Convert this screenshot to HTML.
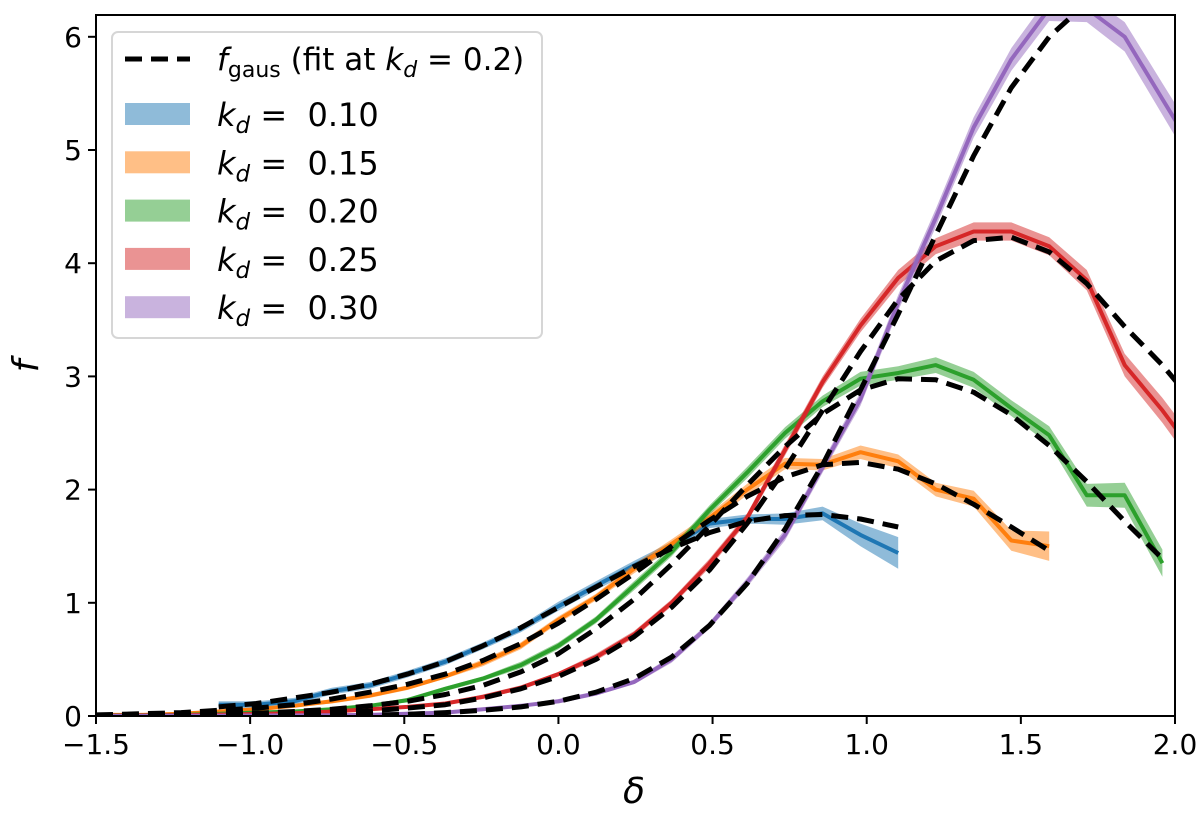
<!DOCTYPE html>
<html><head><meta charset="utf-8">
<style>
html,body{margin:0;padding:0;background:#fff;}
svg{display:block;font-family:"DejaVu Sans","Liberation Sans",sans-serif;}
</style></head>
<body>
<svg id="chart" width="1200" height="814" viewBox="0 0 1200 814" xmlns="http://www.w3.org/2000/svg">
<defs><clipPath id="plotclip"><rect x="96" y="15" width="1079" height="701"/></clipPath></defs>
<rect x="0" y="0" width="1200" height="814" fill="#fff"/>
<g id="series" clip-path="url(#plotclip)"></g>
<g id="axes"></g>
<g id="legend"></g>
</svg>
<script>
const xGrid = [-1.5,-1.347,-1.224,-1.102,-0.980,-0.857,-0.735,-0.612,-0.490,-0.367,-0.245,-0.122,0,0.122,0.245,0.367,0.490,0.612,0.735,0.857,0.980,1.102,1.224,1.347,1.469,1.592,1.714,1.837,1.959,2.082];
const blueX = [-1.102,-0.980,-0.857,-0.735,-0.612,-0.490,-0.367,-0.245,-0.122,0,0.122,0.245,0.367,0.490,0.612,0.735,0.857,0.980,1.102];
const blueY = [0.10,0.10,0.13,0.22,0.27,0.37,0.48,0.62,0.77,0.97,1.15,1.33,1.50,1.70,1.74,1.74,1.79,1.60,1.44];
const blueErr = [0.03,0.03,0.03,0.03,0.03,0.03,0.03,0.03,0.03,0.04,0.04,0.04,0.04,0.04,0.04,0.05,0.06,0.10,0.14];
const blueFit = [0.08,0.11,0.16,0.21,0.28,0.37,0.48,0.62,0.78,0.96,1.14,1.32,1.48,1.62,1.72,1.77,1.78,1.74,1.67];
const orangeY = [0.01,0.01,0.02,0.04,0.06,0.09,0.13,0.18,0.25,0.35,0.47,0.62,0.85,1.05,1.30,1.52,1.75,2.00,2.23,2.22,2.33,2.25,2.00,1.92,1.55,1.50];
const orangeErr = [0.01,0.01,0.01,0.01,0.01,0.01,0.02,0.02,0.02,0.02,0.03,0.03,0.03,0.03,0.04,0.04,0.04,0.05,0.05,0.05,0.06,0.06,0.06,0.07,0.09,0.13];
const orangeFit = [0.01,0.02,0.03,0.05,0.07,0.10,0.15,0.21,0.28,0.37,0.49,0.64,0.82,1.03,1.26,1.50,1.73,1.94,2.11,2.22,2.24,2.18,2.05,1.87,1.67,1.46];
const greenY = [0.005,0.006,0.01,0.02,0.03,0.04,0.06,0.09,0.14,0.24,0.33,0.45,0.62,0.85,1.15,1.45,1.82,2.15,2.50,2.78,2.98,3.03,3.10,2.97,2.72,2.48,1.95,1.95,1.35];
const greenErr = [0.01,0.01,0.01,0.01,0.01,0.01,0.01,0.01,0.02,0.02,0.02,0.03,0.03,0.03,0.04,0.04,0.04,0.05,0.05,0.05,0.06,0.06,0.07,0.07,0.07,0.08,0.10,0.11,0.12];
const greenFit = [0.003,0.005,0.01,0.015,0.025,0.04,0.06,0.09,0.13,0.19,0.27,0.39,0.55,0.77,1.03,1.34,1.68,2.04,2.38,2.67,2.88,2.98,2.97,2.86,2.66,2.39,2.07,1.72,1.39,1.10];
const redY = [0.003,0.005,0.008,0.012,0.018,0.025,0.04,0.06,0.08,0.11,0.17,0.25,0.37,0.52,0.72,1.00,1.35,1.75,2.35,2.95,3.45,3.87,4.15,4.28,4.28,4.15,3.85,3.10,2.70,2.25];
const redErr = [0.01,0.01,0.01,0.01,0.01,0.01,0.01,0.01,0.01,0.01,0.02,0.02,0.02,0.03,0.03,0.03,0.04,0.04,0.05,0.05,0.06,0.07,0.07,0.08,0.08,0.08,0.09,0.10,0.11,0.12];
const redFit = [0.005,0.006,0.008,0.01,0.012,0.02,0.03,0.045,0.07,0.10,0.16,0.24,0.35,0.50,0.70,0.96,1.29,1.70,2.18,2.70,3.22,3.68,4.02,4.20,4.23,4.10,3.82,3.44,3.10,2.70];
const purpleY = [0.001,0.001,0.002,0.003,0.004,0.005,0.007,0.01,0.02,0.03,0.06,0.09,0.13,0.20,0.30,0.50,0.80,1.18,1.60,2.20,2.80,3.65,4.40,5.20,5.80,6.25,6.25,6.00,5.45,4.90];
const purpleErr = [0.01,0.01,0.01,0.01,0.01,0.01,0.01,0.01,0.01,0.01,0.01,0.01,0.02,0.02,0.02,0.03,0.03,0.04,0.05,0.05,0.06,0.07,0.08,0.09,0.10,0.11,0.12,0.13,0.14,0.15];
const purpleFit = [0.005,0.005,0.005,0.005,0.005,0.005,0.006,0.008,0.015,0.03,0.05,0.08,0.13,0.21,0.33,0.52,0.80,1.17,1.65,2.22,2.88,3.55,4.25,4.95,5.55,6.00,6.30,6.40,6.35,6.10];
const xTicks = [-1.5,-1.0,-0.5,0.0,0.5,1.0,1.5,2.0];
const xTickLabels = ["\u22121.5","\u22121.0","\u22120.5","0.0","0.5","1.0","1.5","2.0"];
const yTicks = [0,1,2,3,4,5,6];
const yTickLabels = ["0","1","2","3","4","5","6"];

const X0=96, X1=1175, Y0=716, Y1=15;
const xMin=-1.5, xMax=2.0, yMin=0, yMax=(716-15)/113.2;
function sx(v){return X0+(v-xMin)/(xMax-xMin)*(X1-X0);}
function sy(v){return Y0-(v-yMin)/(yMax-yMin)*(Y0-Y1);}
const NS="http://www.w3.org/2000/svg";
function mk(tag,attrs,parent){const e=document.createElementNS(NS,tag);for(const k in attrs)e.setAttribute(k,attrs[k]);parent.appendChild(e);return e;}

const gS=document.getElementById('series');
const series=[
 {name:'kd-0-10',x:blueX,y:blueY,e:blueErr,fit:blueFit,c:'#1f77b4'},
 {name:'kd-0-15',x:xGrid.slice(0,26),y:orangeY,e:orangeErr,fit:orangeFit,c:'#ff7f0e'},
 {name:'kd-0-20',x:xGrid.slice(0,29),y:greenY,e:greenErr,fit:greenFit.slice(0,29),c:'#2ca02c'},
 {name:'kd-0-25',x:xGrid,y:redY,e:redErr,fit:redFit,c:'#d62728'},
 {name:'kd-0-30',x:xGrid,y:purpleY,e:purpleErr,fit:purpleFit,c:'#9467bd'}
];
series.forEach(s=>{
  const up=s.x.map((v,i)=>sx(v).toFixed(1)+','+sy(s.y[i]+s.e[i]).toFixed(1));
  const dn=s.x.map((v,i)=>sx(v).toFixed(1)+','+sy(s.y[i]-s.e[i]).toFixed(1)).reverse();
  const band=mk('polygon',{points:up.concat(dn).join(' '),fill:s.c,'fill-opacity':0.5,stroke:'none'},gS);
  
  
  const line=mk('polyline',{points:s.x.map((v,i)=>sx(v).toFixed(1)+','+sy(s.y[i]).toFixed(1)).join(' '),fill:'none',stroke:s.c,'stroke-width':4,'stroke-linejoin':'round'},gS);
  
  
});
series.forEach(s=>{
  const fx=s.x.slice(0,s.fit.length);
  const f=mk('polyline',{points:fx.map((v,i)=>sx(v).toFixed(1)+','+sy(s.fit[i]).toFixed(1)).join(' '),fill:'none',stroke:'#000','stroke-width':5,'stroke-dasharray':'17 9','stroke-linejoin':'round'},gS);
  
  
});

const gA=document.getElementById('axes');
const frame=mk('rect',{x:X0,y:Y1,width:X1-X0,height:Y0-Y1,fill:'none',stroke:'#000','stroke-width':2},gA);


xTicks.forEach((v,i)=>{
  const t=mk('line',{x1:sx(v),x2:sx(v),y1:Y0,y2:Y0+8,stroke:'#000','stroke-width':2},gA);
  
  
  const l=mk('text',{x:sx(v),y:Y0+38,'text-anchor':'middle','font-size':28,fill:'#000'},gA);
  
  
  l.textContent=xTickLabels[i];
});
yTicks.forEach((v,i)=>{
  const t=mk('line',{x1:X0-8,x2:X0,y1:sy(v),y2:sy(v),stroke:'#000','stroke-width':2},gA);
  
  
  const l=mk('text',{x:X0-14,y:sy(v)+10,'text-anchor':'end','font-size':28,fill:'#000'},gA);
  
  
  l.textContent=yTickLabels[i];
});
const xt=mk('text',{x:634,y:803,'text-anchor':'middle','font-size':36,'font-style':'italic',fill:'#000'},gA);


xt.textContent='δ';
const yt=mk('text',{x:0,y:0,'text-anchor':'middle','font-size':36,'font-style':'italic',fill:'#000',transform:'translate(38,366) rotate(-90)'},gA);


yt.textContent='f';

const gL=document.getElementById('legend');
const box=mk('rect',{x:112,y:32,width:430,height:306,rx:6,fill:'#fff','fill-opacity':0.85,stroke:'#d6d6d6','stroke-width':2},gL);


const dl=mk('line',{x1:125,x2:190,y1:59,y2:59,stroke:'#000','stroke-width':5,'stroke-dasharray':'17 9'},gL);


const ft=mk('text',{x:217,y:70,'font-size':31,fill:'#000'},gL);


ft.innerHTML='<tspan font-style="italic">f</tspan><tspan font-size="22" dy="7">gaus</tspan><tspan dy="-7"> (fit at </tspan><tspan font-style="italic">k</tspan><tspan font-size="22" font-style="italic" dy="7">d</tspan><tspan dy="-7"> = 0.2)</tspan>';
const legVals=['0.10','0.15','0.20','0.25','0.30'];
series.forEach((s,i)=>{
  const cy=114+i*48.3;
  const p=mk('rect',{x:125,y:cy-11,width:65,height:22,fill:s.c,'fill-opacity':0.5},gL);
  
  
  const t=mk('text',{x:217,y:cy+12,'font-size':32,fill:'#000','xml:space':'preserve'},gL);
  
  
  t.innerHTML='<tspan font-style="italic">k</tspan><tspan font-size="23" font-style="italic" dy="7">d</tspan><tspan dy="-7" xml:space="preserve"> =  '+legVals[i]+'</tspan>';
});
</script>
</body></html>
